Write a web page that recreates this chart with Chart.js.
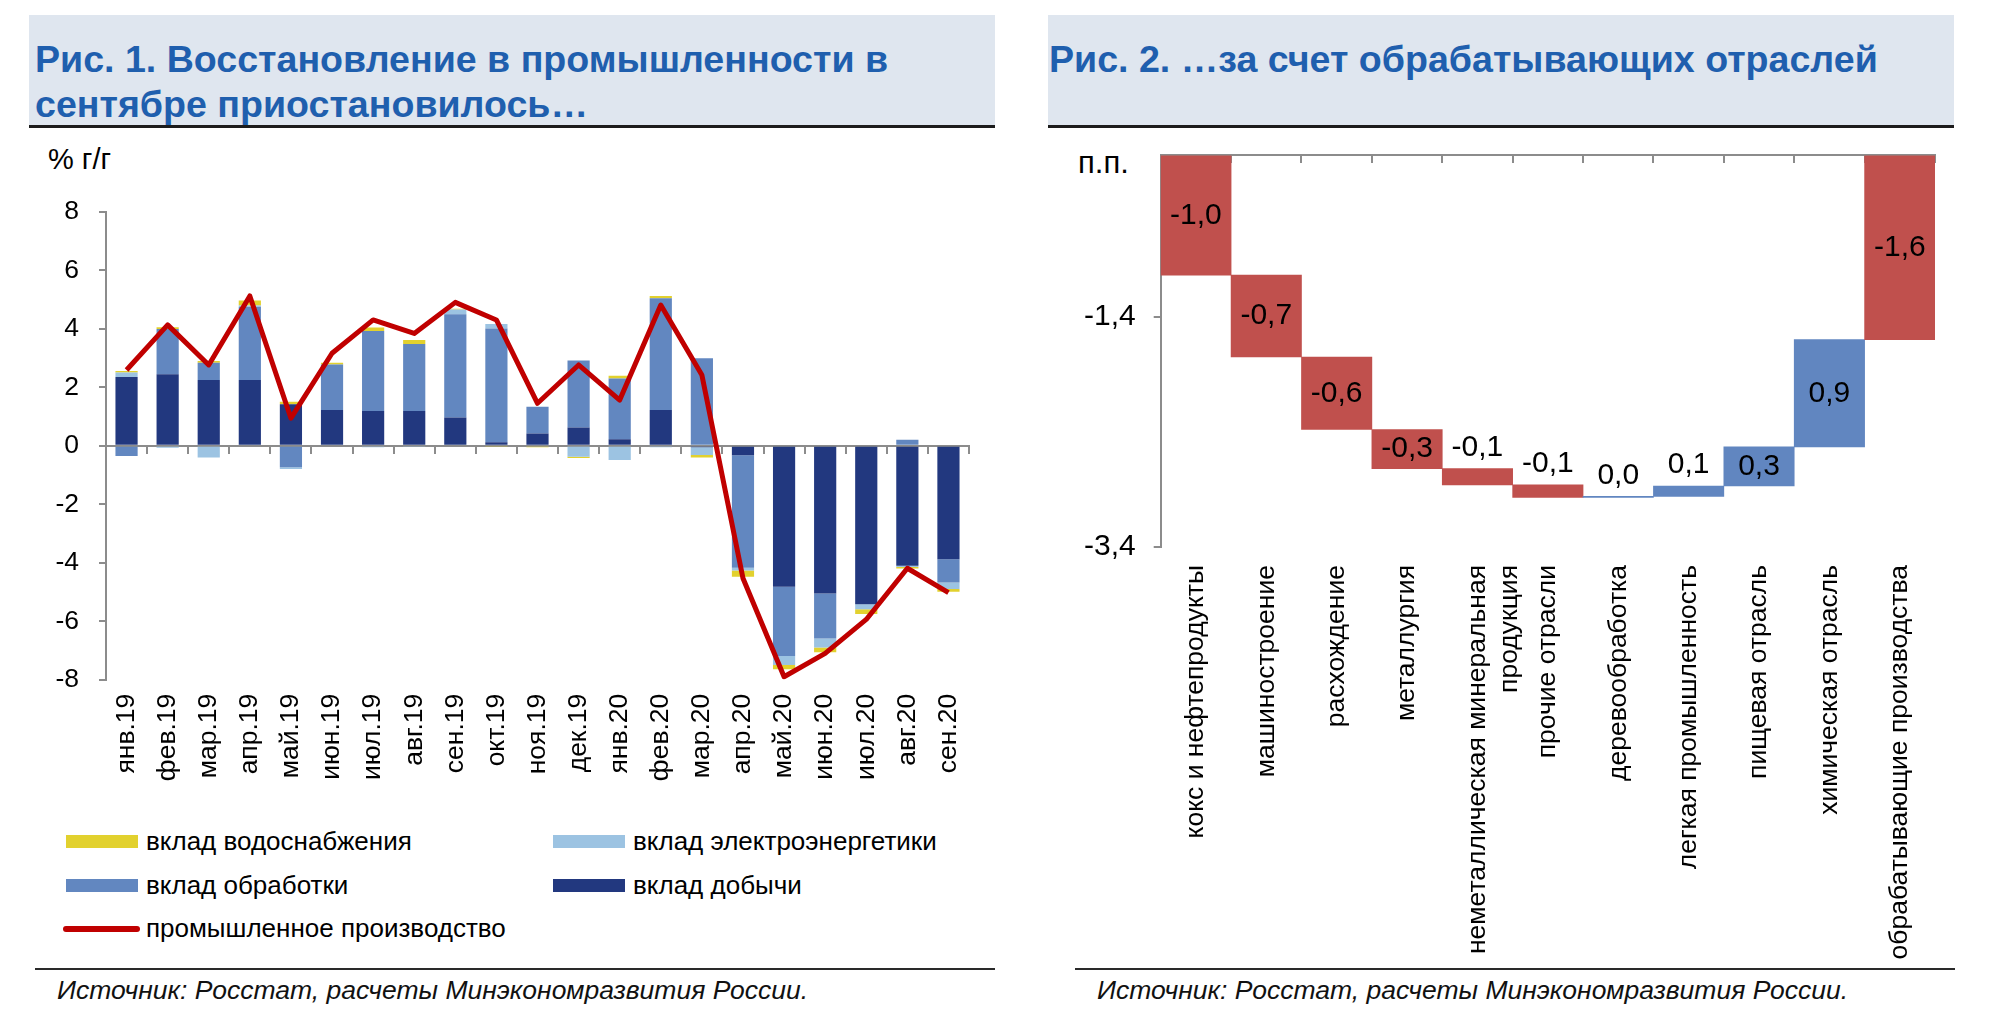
<!DOCTYPE html>
<html>
<head>
<meta charset="utf-8">
<script src="https://cdn.jsdelivr.net/npm/chart.js@4.4.1/dist/chart.umd.min.js"></script>
<style>
  body { margin: 0; width: 2000px; height: 1034px; background: #fff; position: relative; overflow: hidden;
         font-family: "Liberation Sans", Arial, sans-serif; color: #000; }
  .panel { position: absolute; top: 15px; height: 110px; background: #dfe6ef; border-bottom: 3px solid #1c1c1c; }
  .title { position: absolute; color: #1f5fae; font-weight: bold; font-size: 37.6px; line-height: 45px; white-space: nowrap; }
  .unit { position: absolute; line-height: 30px; }
  canvas { position: absolute; }
  .lg { position: absolute; font-size: 26px; line-height: 30px; white-space: nowrap; }
  .sw { position: absolute; }
  .rule { position: absolute; height: 2px; background: #2a2a2a; }
  .src { position: absolute; font-size: 26.5px; font-style: italic; line-height: 30px; white-space: nowrap; color: #111; }
</style>
</head>
<body>
<div class="panel" style="left:29px;width:966px"></div>
<div class="title" style="left:35px;top:37px">Рис. 1. Восстановление в промышленности в<br>сентябре приостановилось…</div>
<div class="panel" style="left:1048px;width:906px"></div>
<div class="title" style="left:1049px;top:37px">Рис. 2. …за счет обрабатывающих отраслей</div>

<div class="unit" style="left:48px;top:144px;font-size:29px">% г/г</div>
<div class="unit" style="left:1078px;top:148px;font-size:31px">п.п.</div>

<canvas id="c1" width="1000" height="660" style="left:0;top:140px"></canvas>
<canvas id="c2" width="1000" height="825" style="left:1000px;top:140px"></canvas>

<div id="legend"></div>

<div class="rule" style="left:35px;top:968px;width:960px"></div>
<div class="rule" style="left:1075px;top:968px;width:880px"></div>
<div class="src" style="left:57px;top:975px">Источник: Росстат, расчеты Минэкономразвития России.</div>
<div class="src" style="left:1097px;top:975px">Источник: Росстат, расчеты Минэкономразвития России.</div>

<script>
(function () {
  'use strict';

  // ---- Рис. 1 data ----
  const MONTHS = ['янв.19','фев.19','мар.19','апр.19','май.19','июн.19','июл.19','авг.19','сен.19','окт.19','ноя.19','дек.19',
                  'янв.20','фев.20','мар.20','апр.20','май.20','июн.20','июл.20','авг.20','сен.20'];
  const MINING = [2.35, 2.44, 2.25, 2.25, 1.42, 1.22, 1.19, 1.19, 0.96, 0.12, 0.42, 0.62,
                  0.22, 1.22, -0.05, -0.33, -4.82, -5.05, -5.42, -4.10, -3.88];
  const MANUF  = [-0.35, 1.55, 0.59, 2.49, -0.74, 1.56, 2.73, 2.29, 3.53, 3.89, 0.91, 2.29,
                  2.08, 3.82, 2.99, -3.84, -2.37, -1.54, 0.00, 0.20, -0.80];
  const POWER  = [0.15, -0.07, -0.40, 0.05, -0.06, 0.00, -0.05, -0.03, 0.17, 0.15, 0.00, -0.38,
                  -0.49, -0.05, -0.27, -0.10, -0.31, -0.31, -0.17, -0.05, -0.22];
  const WATER  = [0.05, 0.06, 0.06, 0.17, 0.08, 0.06, 0.12, 0.13, 0.02, -0.03, -0.05, -0.04,
                  0.09, 0.08, -0.08, -0.21, -0.14, -0.16, -0.16, -0.05, -0.09];
  const IP     = [2.59, 4.13, 2.76, 5.12, 0.94, 3.16, 4.30, 3.84, 4.90, 4.30, 1.45, 2.76,
                  1.56, 4.81, 2.42, -4.53, -7.90, -7.10, -5.94, -4.19, -5.02];
  const Y1_MIN = -8, Y1_MAX = 8, Y1_STEP = 2;

  // ---- Рис. 2 data ----
  const BRANCHES = ['кокс и нефтепродукты', 'машиностроение', 'расхождение', 'металлургия',
                    ['неметаллическая минеральная', 'продукция'], 'прочие отрасли', 'деревообработка',
                    'легкая промышленность', 'пищевая отрасль', 'химическая отрасль', 'обрабатывающие производства'];
  const CONTRIB = [-1.04, -0.71, -0.63, -0.34, -0.14, -0.11, 0.01, 0.09, 0.34, 0.93]; // last bar = total
  const Y2_TICKS = [-3.4, -1.4];
  const Y2_MIN = -3.4, Y2_MAX = 0;

  const C = {
    mining: '#22387f', manuf: '#6287c0', power: '#9cc3e2', water: '#e2d12e', ip: '#c00000',
    neg: '#c0504d', pos: '#6186c0', axis: '#8c8c8c'
  };
  const FONT = '"Liberation Sans", Arial, sans-serif';
  const comma = v => v.toFixed(1).replace('.', ',');

  Chart.defaults.font.family = FONT;
  Chart.defaults.color = '#000';

  // ---------- Рис. 1 ----------
  const c1Top = 140, area1 = { left: 106, right: 969, top: 211.7, bottom: 679.7 };
  new Chart(document.getElementById('c1'), {
    type: 'bar',
    data: {
      labels: MONTHS,
      datasets: [
        { type: 'line', label: 'промышленное производство', data: IP, borderColor: C.ip, backgroundColor: C.ip,
          borderWidth: 5, pointRadius: 0, tension: 0, borderJoinStyle: 'round', stack: 'ip' },
        { label: 'вклад добычи', data: MINING, backgroundColor: C.mining, stack: 's' },
        { label: 'вклад обработки', data: MANUF, backgroundColor: C.manuf, stack: 's' },
        { label: 'вклад электроэнергетики', data: POWER, backgroundColor: C.power, stack: 's' },
        { label: 'вклад водоснабжения', data: WATER, backgroundColor: C.water, stack: 's' },
      ],
    },
    options: {
      responsive: false, animation: false,
      barPercentage: 0.54, categoryPercentage: 1,
      layout: { padding: { top: area1.top - c1Top, right: 1000 - area1.right, left: 0, bottom: 0 } },
      plugins: { legend: { display: false }, tooltip: { enabled: false } },
      scales: {
        x: {
          stacked: true,
          grid: { display: false, drawTicks: false }, border: { display: false },
          ticks: { minRotation: 90, maxRotation: 90, autoSkip: false, padding: 14, font: { size: 26.5 } },
          afterFit: s => { s.height = 660 - (area1.bottom - c1Top); s.paddingLeft = 0; s.paddingRight = 0; },
        },
        x2: {
          type: 'category', labels: MONTHS, position: { y: 0 }, offset: true,
          grid: { offset: true, drawOnChartArea: false, tickLength: 7, color: C.axis, lineWidth: 2 },
          border: { display: true, color: C.axis, width: 2 },
          ticks: { display: false },
        },
        y: {
          stacked: true, min: Y1_MIN, max: Y1_MAX,
          grid: { drawOnChartArea: false, tickLength: 7, color: C.axis, lineWidth: 2 },
          border: { color: C.axis, width: 2 },
          ticks: { stepSize: Y1_STEP, padding: 20, font: { size: 26.5 } },
          afterFit: s => { s.width = area1.left; s.paddingTop = 0; s.paddingBottom = 0; },
        },
      },
    },
  });

  // legend (two columns + line row)
  const LEGEND = [
    { text: 'вклад водоснабжения', color: C.water, col: 0, row: 0 },
    { text: 'вклад электроэнергетики', color: C.power, col: 1, row: 0 },
    { text: 'вклад обработки', color: C.manuf, col: 0, row: 1 },
    { text: 'вклад добычи', color: C.mining, col: 1, row: 1 },
    { text: 'промышленное производство', color: C.ip, col: 0, row: 2, line: true },
  ];
  const lg = document.getElementById('legend');
  LEGEND.forEach(it => {
    const x0 = it.col ? 553 : 66, yc = 842 + it.row * 43.5;
    const sw = document.createElement('div');
    sw.className = 'sw';
    if (it.line) {
      sw.style.cssText = `left:${x0 - 3}px;top:${yc - 3}px;width:77px;height:6px;border-radius:3px;background:${it.color}`;
    } else {
      sw.style.cssText = `left:${x0}px;top:${yc - 7}px;width:72px;height:13px;background:${it.color}`;
    }
    const t = document.createElement('div');
    t.className = 'lg';
    t.style.left = (x0 + 80) + 'px';
    t.style.top = (yc - 16) + 'px';
    t.textContent = it.text;
    lg.appendChild(sw); lg.appendChild(t);
  });

  // ---------- Рис. 2 (waterfall) ----------
  const c2Top = 140, c2Left = 1000, area2 = { left: 1160.7, right: 1935, top: 155.4, bottom: 547 };
  const ranges = [];
  let run = 0;
  CONTRIB.forEach(v => { ranges.push([run, run + v]); run += v; });
  ranges.push([0, run]);
  const deltas = CONTRIB.concat([run]);
  const colors = deltas.map((v, i) => (i === deltas.length - 1 || v < 0) ? C.neg : C.pos);

  const barLabels = {
    id: 'barLabels',
    afterDatasetsDraw(chart) {
      const ctx = chart.ctx;
      const meta = chart.getDatasetMeta(0);
      ctx.save();
      ctx.font = '30px ' + FONT;
      ctx.fillStyle = '#000';
      ctx.textAlign = 'center';
      meta.data.forEach((el, i) => {
        const top = Math.min(el.y, el.base), bot = Math.max(el.y, el.base);
        const txt = comma(deltas[i]);
        if (bot - top > 34) {
          ctx.textBaseline = 'middle';
          ctx.fillText(txt, el.x, (top + bot) / 2);
        } else {
          ctx.textBaseline = 'bottom';
          ctx.fillText(txt, el.x, top - 6);
        }
      });
      ctx.restore();
    },
  };

  new Chart(document.getElementById('c2'), {
    type: 'bar',
    data: {
      labels: BRANCHES,
      datasets: [{ data: ranges, backgroundColor: colors, barPercentage: 1, categoryPercentage: 1 }],
    },
    options: {
      responsive: false, animation: false,
      layout: { padding: { top: area2.top - c2Top, right: 1000 - (area2.right - c2Left), left: 0, bottom: 0 } },
      plugins: { legend: { display: false }, tooltip: { enabled: false } },
      scales: {
        x: {
          grid: { display: false, drawTicks: false }, border: { display: false },
          ticks: { minRotation: 90, maxRotation: 90, autoSkip: false, padding: 18, font: { size: 26.5 } },
          afterFit: s => { s.height = 825 - (area2.bottom - c2Top); s.paddingLeft = 0; s.paddingRight = 0; },
        },
        x2: {
          type: 'category', labels: BRANCHES, position: { y: 0 }, offset: true,
          grid: { offset: true, drawOnChartArea: false, tickLength: 7, color: C.axis, lineWidth: 2 },
          border: { display: true, color: C.axis, width: 2 },
          ticks: { display: false },
        },
        y: {
          min: Y2_MIN, max: Y2_MAX,
          afterBuildTicks: s => { s.ticks = Y2_TICKS.map(v => ({ value: v })); },
          grid: { drawOnChartArea: false, tickLength: 7, color: C.axis, lineWidth: 2 },
          border: { color: C.axis, width: 2 },
          ticks: { padding: 18, font: { size: 30 }, callback: v => comma(v) },
          afterFit: s => { s.width = area2.left - c2Left; s.paddingTop = 0; s.paddingBottom = 0; },
        },
      },
    },
    plugins: [barLabels],
  });
})();
</script>
</body>
</html>
